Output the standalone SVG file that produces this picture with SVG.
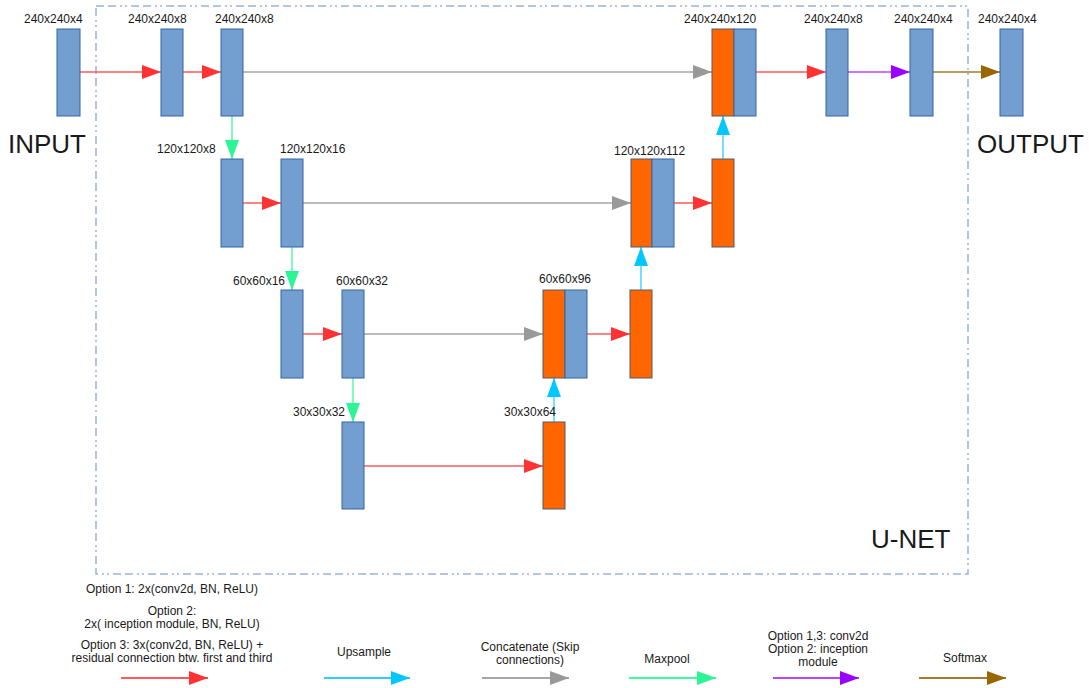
<svg xmlns="http://www.w3.org/2000/svg" width="1089" height="688" viewBox="0 0 1089 688">
  <style>
    text { font-family: "Liberation Sans", Arial, sans-serif; fill: #1a1a1a; }
    .lbl { font-size: 12px; }
    .big { font-size: 26px; }
    .leg { font-size: 12px; text-anchor: middle; }
    .blue { fill: #729fcf; stroke: #3465a4; stroke-width: 1; }
    .orange { fill: #ff6600; stroke: #505a70; stroke-width: 1; }
    .frame { fill: none; stroke: #9ab3da; stroke-width: 1.5; stroke-dasharray: 8 4 8 4 2 3 2 4; }
    .conv { stroke: #ff5a5a; stroke-width: 1.3; fill: none; marker-end: url(#hRed); }
    .up { stroke: #33ccff; stroke-width: 1.3; fill: none; marker-end: url(#hCyan); }
    .skip { stroke: #a6a6a6; stroke-width: 1.3; fill: none; marker-end: url(#hGray); }
    .pool { stroke: #3dfb9e; stroke-width: 1.3; fill: none; marker-end: url(#hGreen); }
    .out { stroke: #bb44ff; stroke-width: 1.3; fill: none; marker-end: url(#hPurple); }
    .soft { stroke: #a67a2a; stroke-width: 1.3; fill: none; marker-end: url(#hBrown); }
    .legline { stroke-width: 2; }
  </style>
  <defs>
    <marker id="hRed" markerUnits="userSpaceOnUse" markerWidth="19" markerHeight="14" refX="19" refY="7" orient="auto"><path d="M0,0 L19,7 L0,14 z" fill="#ff3333"/></marker>
    <marker id="hCyan" markerUnits="userSpaceOnUse" markerWidth="19" markerHeight="14" refX="19" refY="7" orient="auto"><path d="M0,0 L19,7 L0,14 z" fill="#00c8ff"/></marker>
    <marker id="hGray" markerUnits="userSpaceOnUse" markerWidth="19" markerHeight="14" refX="19" refY="7" orient="auto"><path d="M0,0 L19,7 L0,14 z" fill="#999999"/></marker>
    <marker id="hGreen" markerUnits="userSpaceOnUse" markerWidth="19" markerHeight="14" refX="19" refY="7" orient="auto"><path d="M0,0 L19,7 L0,14 z" fill="#2cf596"/></marker>
    <marker id="hPurple" markerUnits="userSpaceOnUse" markerWidth="19" markerHeight="14" refX="19" refY="7" orient="auto"><path d="M0,0 L19,7 L0,14 z" fill="#9900ff"/></marker>
    <marker id="hBrown" markerUnits="userSpaceOnUse" markerWidth="19" markerHeight="14" refX="19" refY="7" orient="auto"><path d="M0,0 L19,7 L0,14 z" fill="#996600"/></marker>
  </defs>

  <rect width="1089" height="688" fill="#ffffff"/>

  <!-- U-NET boundary -->
  <rect class="frame" x="96" y="6" width="872" height="568"/>
  <text class="big" x="871" y="548">U-NET</text>
  <text class="big" x="8" y="153">INPUT</text>
  <text class="big" x="977" y="153">OUTPUT</text>

  <!-- connectors -->
  <g id="connectors">
    <!-- skip connections -->
    <line class="skip" x1="243" y1="72" x2="712" y2="72"/>
    <line class="skip" x1="303" y1="203" x2="631" y2="203"/>
    <line class="skip" x1="364" y1="334" x2="543" y2="334"/>
    <!-- conv blocks -->
    <line class="conv" x1="80" y1="72" x2="161" y2="72"/>
    <line class="conv" x1="183" y1="72" x2="221" y2="72"/>
    <line class="conv" x1="243" y1="203" x2="281" y2="203"/>
    <line class="conv" x1="303" y1="334" x2="342" y2="334"/>
    <line class="conv" x1="364" y1="466" x2="543" y2="466"/>
    <line class="conv" x1="587" y1="334" x2="630" y2="334"/>
    <line class="conv" x1="674" y1="203" x2="712" y2="203"/>
    <line class="conv" x1="756" y1="72" x2="826" y2="72"/>
    <!-- maxpool -->
    <line class="pool" x1="232" y1="116" x2="232" y2="159"/>
    <line class="pool" x1="292" y1="247" x2="292" y2="290"/>
    <line class="pool" x1="353" y1="378" x2="353" y2="422"/>
    <!-- upsample -->
    <line class="up" x1="554" y1="422" x2="554" y2="378"/>
    <line class="up" x1="641" y1="290" x2="641" y2="247"/>
    <line class="up" x1="723" y1="159" x2="723" y2="116"/>
    <!-- output conv and softmax -->
    <line class="out" x1="848" y1="72" x2="910" y2="72"/>
    <line class="soft" x1="933" y1="72" x2="1000" y2="72"/>
  </g>

  <!-- level 1: 240x240 -->
  <g id="n-input"><rect class="blue" x="57" y="29" width="23" height="87"/><text class="lbl" x="24" y="23">240x240x4</text></g>
  <g id="n-e1a"><rect class="blue" x="161" y="29" width="22" height="87"/><text class="lbl" x="128" y="23">240x240x8</text></g>
  <g id="n-e1b"><rect class="blue" x="221" y="29" width="22" height="87"/><text class="lbl" x="215" y="23">240x240x8</text></g>
  <g id="n-d1cat"><rect class="orange" x="712" y="29" width="22" height="87"/><rect class="blue" x="734" y="29" width="22" height="87"/><text class="lbl" x="684" y="23">240x240x120</text></g>
  <g id="n-d1"><rect class="blue" x="826" y="29" width="22" height="87"/><text class="lbl" x="804" y="23">240x240x8</text></g>
  <g id="n-logits"><rect class="blue" x="910" y="29" width="23" height="87"/><text class="lbl" x="894" y="23">240x240x4</text></g>
  <g id="n-output"><rect class="blue" x="1000" y="29" width="23" height="87"/><text class="lbl" x="978" y="23">240x240x4</text></g>

  <!-- level 2: 120x120 -->
  <g id="n-e2a"><rect class="blue" x="221" y="159" width="22" height="88"/><text class="lbl" x="157" y="153">120x120x8</text></g>
  <g id="n-e2b"><rect class="blue" x="281" y="159" width="22" height="88"/><text class="lbl" x="280" y="153">120x120x16</text></g>
  <g id="n-d2cat"><rect class="orange" x="631" y="159" width="21" height="88"/><rect class="blue" x="652" y="159" width="22" height="88"/><text class="lbl" x="614" y="155">120x120x112</text></g>
  <g id="n-d2"><rect class="orange" x="712" y="159" width="22" height="88"/></g>

  <!-- level 3: 60x60 -->
  <g id="n-e3a"><rect class="blue" x="281" y="290" width="22" height="88"/><text class="lbl" x="233" y="285">60x60x16</text></g>
  <g id="n-e3b"><rect class="blue" x="342" y="290" width="22" height="88"/><text class="lbl" x="336" y="285">60x60x32</text></g>
  <g id="n-d3cat"><rect class="orange" x="543" y="290" width="22" height="88"/><rect class="blue" x="565" y="290" width="22" height="88"/><text class="lbl" x="539" y="283">60x60x96</text></g>
  <g id="n-d3"><rect class="orange" x="630" y="290" width="22" height="88"/></g>

  <!-- level 4: 30x30 -->
  <g id="n-b1"><rect class="blue" x="342" y="422" width="22" height="87"/><text class="lbl" x="293" y="416">30x30x32</text></g>
  <g id="n-b2"><rect class="orange" x="543" y="422" width="22" height="87"/><text class="lbl" x="504" y="416">30x30x64</text></g>

  <!-- legend -->
  <g id="legend">
    <text class="leg" x="172" y="593">Option 1: 2x(conv2d, BN, ReLU)</text>
    <text class="leg" x="172" y="615">Option 2:</text>
    <text class="leg" x="172" y="628">2x( inception module, BN, ReLU)</text>
    <text class="leg" x="172" y="649">Option 3: 3x(conv2d, BN, ReLU) +</text>
    <text class="leg" x="172" y="662">residual connection btw. first and third</text>
    <line class="conv legline" x1="121" y1="678" x2="208" y2="678"/>

    <text class="leg" x="364" y="656">Upsample</text>
    <line class="up legline" x1="324" y1="678" x2="410" y2="678"/>

    <text class="leg" x="530" y="651">Concatenate (Skip</text>
    <text class="leg" x="530" y="664">connections)</text>
    <line class="skip legline" x1="482" y1="678" x2="569" y2="678"/>

    <text class="leg" x="667" y="663">Maxpool</text>
    <line class="pool legline" x1="629" y1="678" x2="716" y2="678"/>

    <text class="leg" x="818" y="640">Option 1,3: conv2d</text>
    <text class="leg" x="818" y="653">Option 2: inception</text>
    <text class="leg" x="818" y="666">module</text>
    <line class="out legline" x1="773" y1="678" x2="859" y2="678"/>

    <text class="leg" x="965" y="662">Softmax</text>
    <line class="soft legline" x1="919" y1="678" x2="1006" y2="678"/>
  </g>
</svg>
